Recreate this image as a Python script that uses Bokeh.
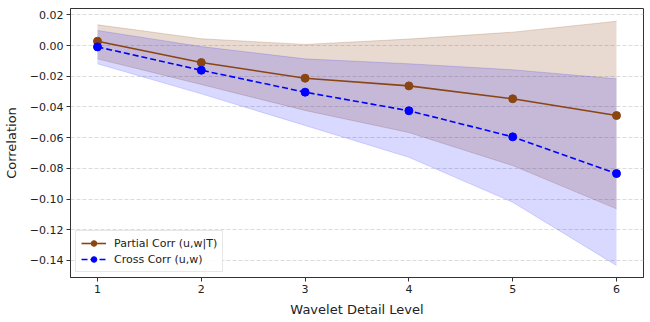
from bokeh.plotting import figure
from bokeh.models import FixedTicker, CustomJSTickFormatter, Range1d, Legend, LegendItem
from bokeh.embed import file_html
from bokeh.resources import INLINE

levels = [1, 2, 3, 4, 5, 6]
partial_corr = [0.0028, -0.0111, -0.0213, -0.0263, -0.0347, -0.0456]
partial_upper = [0.0135, 0.0044, 0.0007, 0.0042, 0.0087, 0.0158]
partial_lower = [-0.0087, -0.0254, -0.0423, -0.0567, -0.0782, -0.1064]
cross_corr = [-0.0009, -0.0161, -0.0304, -0.0425, -0.0595, -0.0834]
cross_upper = [0.0098, -0.0007, -0.0087, -0.0119, -0.0158, -0.0217]
cross_lower = [-0.0119, -0.0315, -0.0521, -0.0728, -0.1021, -0.1433]
y_ticks = [0.02, 0.0, -0.02, -0.04, -0.06, -0.08, -0.10, -0.12, -0.14]

BROWN = "#8B4513"
BLUE = "#0000FF"
FONT = "DejaVu Sans"

p = figure(width=650, height=322, output_backend="svg", toolbar_location=None,
           x_range=Range1d(0.74, 6.26), y_range=Range1d(-0.1511, 0.0241),
           min_border_left=68, min_border_top=8, min_border_right=7, min_border_bottom=45)

p.varea(x=levels, y1=partial_lower, y2=partial_upper, fill_color=BROWN, fill_alpha=0.2)
p.line(x=levels, y=partial_upper, line_color=BROWN, line_alpha=0.2, line_width=1)
p.line(x=levels, y=partial_lower, line_color=BROWN, line_alpha=0.2, line_width=1)
p.varea(x=levels, y1=cross_lower, y2=cross_upper, fill_color=BLUE, fill_alpha=0.15)
p.line(x=levels, y=cross_upper, line_color=BLUE, line_alpha=0.15, line_width=1)
p.line(x=levels, y=cross_lower, line_color=BLUE, line_alpha=0.15, line_width=1)

l1 = p.line(x=levels, y=partial_corr, line_color=BROWN, line_width=1.6)
s1 = p.scatter(x=levels, y=partial_corr, size=8, fill_color=BROWN, line_color=BROWN)
l2 = p.line(x=levels, y=cross_corr, line_color=BLUE, line_width=1.6, line_dash="6 3")
s2 = p.scatter(x=levels, y=cross_corr, size=8, fill_color=BLUE, line_color=BLUE)

legend = Legend(items=[LegendItem(label="Partial Corr (u,w|T)", renderers=[l1, s1]),
                       LegendItem(label="Cross Corr (u,w)", renderers=[l2, s2])],
                location="bottom_left")
legend.label_text_font = FONT
legend.label_text_font_size = "11px"
legend.label_text_color = "#222222"
legend.glyph_width = 25
legend.glyph_height = 14
legend.label_height = 14
legend.spacing = 2
legend.padding = 5
legend.margin = 5
legend.label_standoff = 8
legend.border_line_color = "#d0d0d0"
legend.background_fill_alpha = 0.85
p.add_layout(legend)

p.xaxis.ticker = FixedTicker(ticks=levels)
p.yaxis.ticker = FixedTicker(ticks=y_ticks)
p.yaxis.formatter = CustomJSTickFormatter(code="""
var s = Math.abs(tick).toFixed(2);
return (tick < -1e-9 ? '\\u2212' : '') + s;
""")
p.xaxis.axis_label = "Wavelet Detail Level"
p.yaxis.axis_label = "Correlation"
for ax in (p.xaxis, p.yaxis):
    ax.axis_label_text_font = FONT
    ax.axis_label_text_font_size = "13px"
    ax.axis_label_text_font_style = "normal"
    ax.axis_label_text_color = "#222222"
    ax.major_label_text_font = FONT
    ax.major_label_text_font_size = "11px"
    ax.major_label_text_color = "#222222"
    ax.minor_tick_line_color = None
    ax.major_tick_in = 0
    ax.major_tick_out = 4
    ax.major_tick_line_color = "#333333"
    ax.axis_line_color = "#333333"
    ax.major_label_standoff = 3
p.xaxis.axis_label_standoff = 6
p.yaxis.axis_label_standoff = 8

p.xgrid.grid_line_color = None
p.ygrid.grid_line_color = "#cccccc"
p.ygrid.grid_line_dash = "4 2"
p.ygrid.grid_line_alpha = 0.7
p.outline_line_color = "#333333"
p.outline_line_alpha = 1.0
p.background_fill_color = "white"

open("out.html", "w").write(file_html(p, INLINE))
